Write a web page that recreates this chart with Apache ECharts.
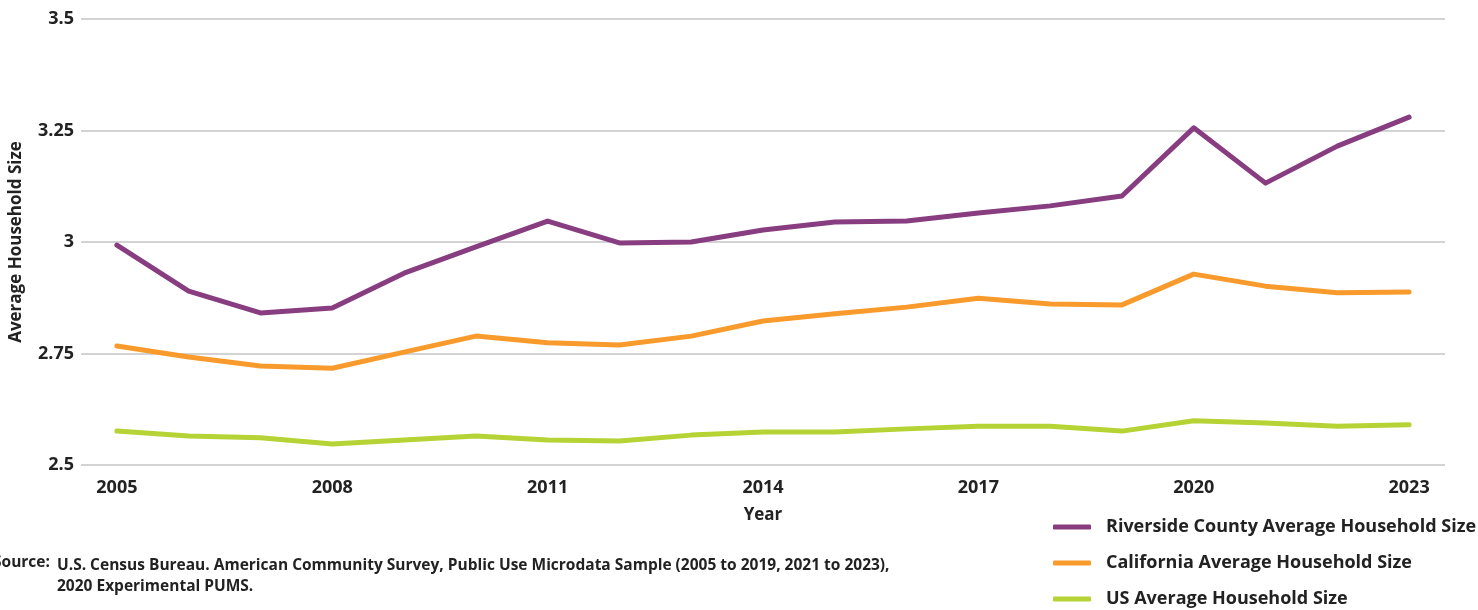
<!DOCTYPE html>
<html>
<head>
<meta charset="utf-8">
<script src="https://cdn.jsdelivr.net/npm/echarts@6/dist/echarts.min.js"></script>
<style>
  html, body { margin: 0; padding: 0; background: #fff; }
  #chart { width: 1478px; height: 610px; }
</style>
</head>
<body>
<div id="chart"></div>
<script>
const years = ['2005', '2006', '2007', '2008', '2009', '2010', '2011', '2012', '2013', '2014',
  '2015', '2016', '2017', '2018', '2019', '2020', '2021', '2022', '2023'];
const riverside = [2.993, 2.890, 2.841, 2.852, 2.930, 2.989, 3.047, 2.998, 3.000, 3.027,
  3.045, 3.047, 3.065, 3.081, 3.103, 3.256, 3.132, 3.215, 3.280];
const california = [2.767, 2.742, 2.722, 2.717, 2.753, 2.789, 2.774, 2.769, 2.789, 2.823,
  2.839, 2.854, 2.874, 2.861, 2.859, 2.928, 2.901, 2.886, 2.888];
const usAvg = [2.576, 2.565, 2.561, 2.547, 2.556, 2.565, 2.556, 2.554, 2.567, 2.574,
  2.574, 2.581, 2.587, 2.587, 2.576, 2.599, 2.594, 2.587, 2.590];
const seriesNames = ['Riverside County Average Household Size', 'California Average Household Size', 'US Average Household Size'];
const colors = ['#873d80', '#f99a2d', '#b5d334'];

const font = '"Open Sans", "Noto Sans", sans-serif';
const chart = echarts.init(document.getElementById('chart'));

const makeLine = (name, data, color) => ({
  name: name,
  type: 'line',
  data: data,
  symbol: 'none',
  smooth: false,
  lineStyle: { width: 5, color: color, cap: 'round', join: 'round' },
  itemStyle: { color: color }
});

const option = {
  animation: false,
  textStyle: { fontFamily: font },
  grid: { left: 80, right: 33, top: 19, bottom: 145 },
  xAxis: {
    type: 'category',
    data: years,
    boundaryGap: true,
    name: 'Year',
    nameLocation: 'middle',
    nameGap: 42,
    nameTextStyle: { fontSize: 17, fontWeight: 'bold', color: '#222', fontFamily: font },
    axisLine: { show: false },
    axisTick: { show: false },
    axisLabel: { interval: 2, fontSize: 18, fontWeight: 'bold', color: '#222', margin: 14, fontFamily: font }
  },
  yAxis: {
    type: 'value',
    min: 2.5,
    max: 3.5,
    interval: 0.25,
    name: 'Average Household Size',
    nameLocation: 'middle',
    nameGap: 56,
    nameTextStyle: { fontSize: 17, fontWeight: 'bold', color: '#222', fontFamily: font },
    axisLabel: {
      fontSize: 18, fontWeight: 'bold', color: '#222', margin: 7, fontFamily: font,
      formatter: v => String(+v.toFixed(2))
    },
    splitLine: { lineStyle: { color: '#c4c4c4', width: 1.5 } }
  },
  legend: {
    orient: 'vertical',
    left: 1053,
    top: 518,
    height: 92,
    padding: 0,
    icon: 'roundRect',
    itemWidth: 38,
    itemHeight: 5,
    itemGap: 18,
    data: seriesNames,
    textStyle: { fontSize: 18, fontWeight: 'bold', color: '#222', padding: [0, 0, 0, 10], fontFamily: font }
  },
  graphic: [
    {
      type: 'text', left: -7, top: 555,
      style: { text: 'Source:', fontSize: 15.5, fontWeight: 'bold', fill: '#222', fontFamily: font }
    },
    {
      type: 'text', left: 57, top: 555,
      style: {
        text: 'U.S. Census Bureau. American Community Survey, Public Use Microdata Sample (2005 to 2019, 2021 to 2023),\n2020 Experimental PUMS.',
        fontSize: 15.5, fontWeight: 'bold', fill: '#222', lineHeight: 21, fontFamily: font
      }
    }
  ],
  series: [
    makeLine(seriesNames[0], riverside, colors[0]),
    makeLine(seriesNames[1], california, colors[1]),
    makeLine(seriesNames[2], usAvg, colors[2])
  ]
};

chart.setOption(option);
</script>
</body>
</html>
